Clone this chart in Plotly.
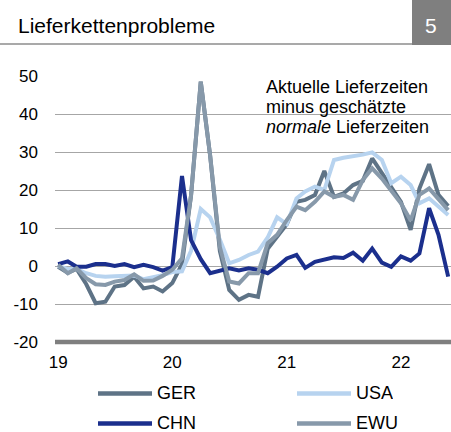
import pandas as pd
import plotly.graph_objects as go

months = pd.date_range("2019-01-01", periods=42, freq="MS")

ger = [-0.2, -1.8, -0.8, -4.8, -9.8, -9.4, -5.4, -5.0, -2.8, -5.9, -5.4, -6.7,
       -4.5, 0.5, 18.6, 48.5, 29.0, 4.0, -6.3, -8.9, -7.6, -8.1, 4.5, 7.5,
       11.0, 16.9, 17.4, 18.7, 25.0, 18.2, 19.1, 21.3, 22.4, 28.3, 24.4, 20.4,
       16.9, 9.5, 20.4, 26.8, 18.7, 15.8]
usa = [0.0, -0.8, -0.8, -1.9, -2.6, -2.8, -2.7, -2.7, -2.5, -3.5, -3.0, -2.4,
       -1.6, -1.4, 4.0, 15.0, 12.8, 7.0, 0.7, 1.6, 2.9, 3.8, 7.5, 12.8,
       11.0, 17.8, 19.6, 20.9, 20.0, 27.9, 28.5, 28.8, 29.3, 29.9, 27.9, 21.8,
       23.5, 21.3, 16.5, 17.8, 15.6, 13.4]
chn = [0.5, 1.2, -0.2, -0.2, 0.5, 0.5, 0.0, 0.5, -0.3, 0.3, -0.3, -1.2,
       -0.3, 23.7, 6.8, 1.8, -1.9, -1.2, -0.6, -1.2, -0.6, -1.0, -1.9, -0.2,
       2.0, 2.9, -0.5, 1.1, 1.8, 2.3, 2.1, 3.5, 1.4, 4.6, 0.9, -0.2,
       2.5, 1.4, 3.3, 15.2, 8.2, -2.8]
ewu = [0.3, -1.9, -0.6, -3.2, -4.8, -5.0, -4.1, -3.7, -2.2, -3.9, -3.8, -2.6,
       -1.0, 2.0, 18.6, 48.5, 29.0, 5.0, -4.1, -4.6, -1.9, -1.9, 6.0, 8.2,
       12.1, 15.6, 14.7, 16.9, 19.6, 18.2, 18.7, 17.4, 22.6, 25.7, 23.0, 20.0,
       16.5, 12.0, 18.7, 20.4, 17.4, 14.7]

series_names = ["GER", "USA", "CHN", "EWU"]
series_values = [ger, usa, chn, ewu]
series_colors = ["#5e7386", "#b7d3ef", "#1b2f8d", "#8799aa"]

x_tick_vals = ["2019-01-01", "2020-01-01", "2021-01-01", "2022-01-01"]
x_tick_text = ["19", "20", "21", "22"]
y_tick_vals = [-20, -10, 0, 10, 20, 30, 40, 50]
y_tick_text = ["-20", "-10", "0", "10", "20", "30", "40", "50"]

title_text = "Lieferkettenprobleme"
badge_text = "5"
note_lines = ["Aktuelle Lieferzeiten", "minus geschätzte", "<i>normale</i> Lieferzeiten"]

FONT = "Liberation Sans, Arial, sans-serif"
W, H = 451, 432
L, R, T, B = 55, 0, 76, 90
PW, PH = W - L - R, H - T - B


def px(x):
    return (x - L) / PW


def py(y):
    return (H - B - y) / PH


fig = go.Figure()
for name, vals, col in zip(series_names, series_values, series_colors):
    fig.add_trace(go.Scatter(x=months, y=vals, mode="lines", name=name,
                             line=dict(color=col, width=4), showlegend=False))

shapes = []
annotations = []

# thick baseline at -20
shapes.append(dict(type="line", xref="paper", yref="paper", x0=0, x1=1, y0=0, y1=0,
                   line=dict(color="#7f7f7f", width=4.5), layer="above"))
# title underline and badge
shapes.append(dict(type="line", xref="paper", yref="paper", x0=px(0), x1=px(412),
                   y0=py(44), y1=py(44), line=dict(color="#8c8c8c", width=1.5)))
shapes.append(dict(type="rect", xref="paper", yref="paper", x0=px(412), x1=px(451),
                   y0=py(45), y1=py(0), fillcolor="#7f7f7f", line=dict(width=0)))
annotations.append(dict(text=title_text, xref="paper", yref="paper", x=px(16), y=py(25.5),
                        xanchor="left", yanchor="middle", showarrow=False,
                        font=dict(family=FONT, size=21, color="#000000")))
annotations.append(dict(text=badge_text, xref="paper", yref="paper", x=px(431), y=py(25.5),
                        xanchor="center", yanchor="middle", showarrow=False,
                        font=dict(family=FONT, size=21, color="#ffffff")))

# note text
for line, yc in zip(note_lines, [87, 107, 127]):
    annotations.append(dict(text=line, xref="paper", yref="paper", x=px(264), y=py(yc),
                            xanchor="left", yanchor="middle", showarrow=False,
                            font=dict(family=FONT, size=18, color="#000000")))

# manual legend (2 columns)
legend_pos = [(98, 393.5), (297, 393.5), (98, 423.5), (297, 423.5)]
for (lx, ly), name, col in zip(legend_pos, series_names, series_colors):
    shapes.append(dict(type="line", xref="paper", yref="paper", x0=px(lx), x1=px(lx + 54),
                       y0=py(ly), y1=py(ly), line=dict(color=col, width=4.5)))
    annotations.append(dict(text=name, xref="paper", yref="paper", x=px(lx + 57), y=py(ly - 0.5),
                            xanchor="left", yanchor="middle", showarrow=False,
                            height=16, valign="middle",
                            font=dict(family=FONT, size=18, color="#000000")))

fig.update_layout(
    width=W, height=H,
    margin=dict(l=L, r=R, t=T, b=B, pad=0),
    paper_bgcolor="white", plot_bgcolor="white",
    showlegend=False,
    font=dict(family=FONT, size=17, color="#000000"),
    shapes=shapes, annotations=annotations,
)
fig.update_xaxes(type="date", range=["2018-12-22", "2022-06-10"],
                 tickvals=x_tick_vals, ticktext=x_tick_text,
                 showgrid=False, zeroline=False, showline=False, ticks="",
                 ticklabelstandoff=8, tickfont=dict(family=FONT, size=17, color="#000000"))
fig.update_yaxes(range=[-20, 50], tickvals=y_tick_vals, ticktext=y_tick_text,
                 showgrid=True, gridcolor="#a6a6a6", gridwidth=1.2,
                 zeroline=False, showline=False, ticks="",
                 ticklabelstandoff=16, tickfont=dict(family=FONT, size=17, color="#000000"))

fig.write_html("out.html", config={"displayModeBar": False},
               post_script="document.body.style.margin='0';document.body.style.padding='0';document.body.style.overflow='hidden';")
